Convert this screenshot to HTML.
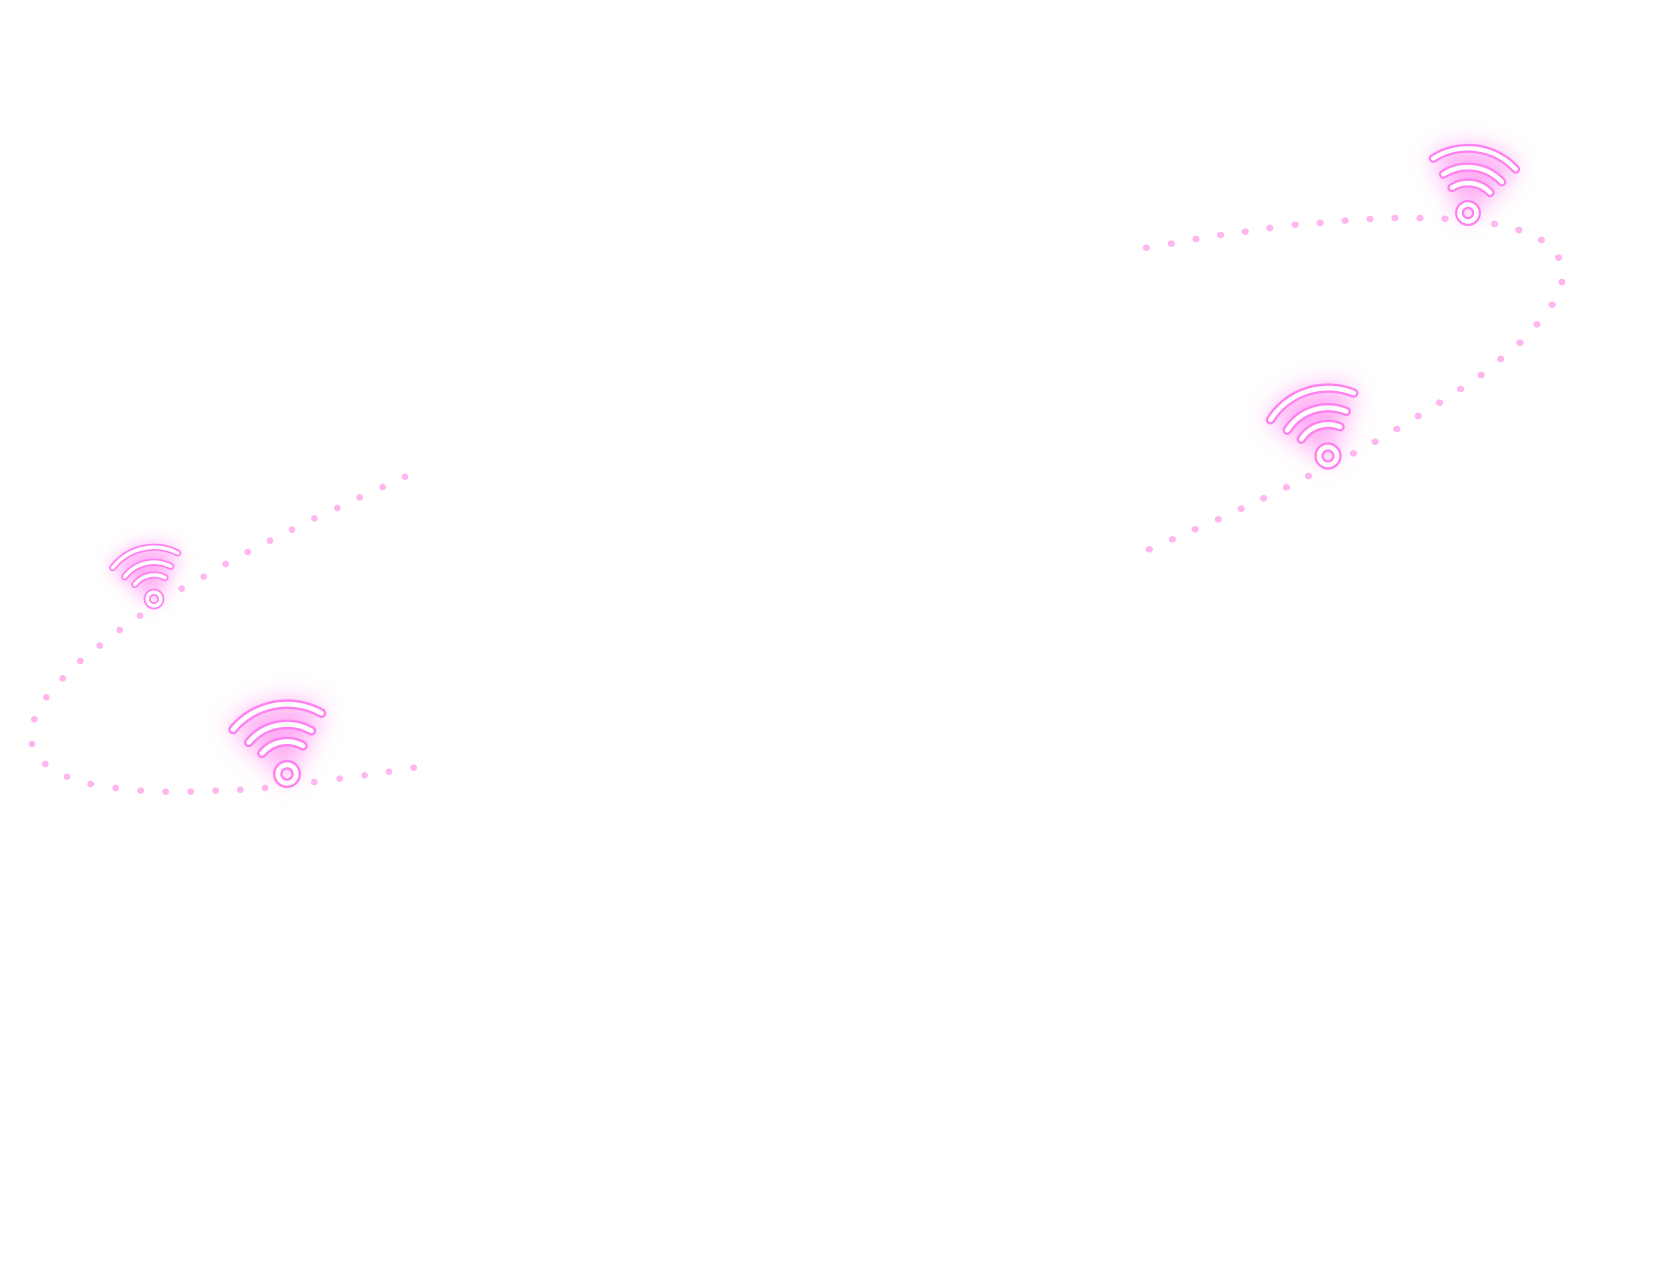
<!DOCTYPE html>
<html><head><meta charset="utf-8"><style>
html,body{margin:0;padding:0;background:#fff;}
svg{display:block;}
</style></head><body>
<svg width="1667" height="1280" viewBox="0 0 1667 1280" xmlns="http://www.w3.org/2000/svg">
<defs>
<filter id="glow" x="-1" y="-1" width="3" height="3"><feGaussianBlur stdDeviation="12"/></filter>
</defs>
<!-- right dotted path -->
<g transform="translate(1100,100) scale(0.362,0.33333)" fill="#ffb6ef">
<g id="rd">
<circle cx="128" cy="443" r="10"/><circle cx="197" cy="431" r="10"/><circle cx="265" cy="417" r="10"/><circle cx="333" cy="405" r="10"/><circle cx="401" cy="395" r="10"/><circle cx="469" cy="384" r="10"/><circle cx="539" cy="374" r="10"/><circle cx="608" cy="369" r="10"/><circle cx="677" cy="362" r="10"/><circle cx="746" cy="357" r="10"/><circle cx="815" cy="354" r="10"/><circle cx="884" cy="354" r="10"/><circle cx="953" cy="356" r="10"/><circle cx="1090" cy="372" r="10"/><circle cx="1157" cy="390" r="10"/><circle cx="1219" cy="420" r="10"/><circle cx="1267" cy="473" r="10"/><circle cx="1276" cy="546" r="10"/><circle cx="1249" cy="614" r="10"/><circle cx="1207" cy="673" r="10"/><circle cx="1160" cy="728" r="10"/><circle cx="1107" cy="777" r="10"/><circle cx="1053" cy="825" r="10"/><circle cx="996" cy="867" r="10"/><circle cx="938" cy="908" r="10"/><circle cx="879" cy="948" r="10"/><circle cx="820" cy="987" r="10"/><circle cx="760" cy="1025" r="10"/><circle cx="700" cy="1060" r="10"/><circle cx="576" cy="1128" r="10"/><circle cx="515" cy="1162" r="10"/><circle cx="452" cy="1195" r="10"/><circle cx="390" cy="1226" r="10"/><circle cx="327" cy="1258" r="10"/><circle cx="263" cy="1288" r="10"/><circle cx="200" cy="1318" r="10"/><circle cx="136" cy="1348" r="10"/>
</g>
</g>
<!-- left dotted path -->
<g transform="translate(0,450) scale(0.33333)" fill="#ffb6ef">
<circle cx="1215" cy="80" r="10"/><circle cx="1148" cy="111" r="10"/><circle cx="1079" cy="142" r="10"/><circle cx="1012" cy="174" r="10"/><circle cx="943" cy="205" r="10"/><circle cx="876" cy="239" r="10"/><circle cx="810" cy="272" r="10"/><circle cx="743" cy="306" r="10"/><circle cx="677" cy="342" r="10"/><circle cx="611" cy="380" r="10"/><circle cx="545" cy="416" r="10"/><circle cx="420" cy="497" r="10"/><circle cx="359" cy="540" r="10"/><circle cx="299" cy="587" r="10"/><circle cx="241" cy="633" r="10"/><circle cx="188" cy="685" r="10"/><circle cx="139" cy="742" r="10"/><circle cx="103" cy="808" r="10"/><circle cx="96" cy="882" r="10"/><circle cx="136" cy="942" r="10"/><circle cx="201" cy="980" r="10"/><circle cx="272" cy="1002" r="10"/><circle cx="347" cy="1014" r="10"/><circle cx="422" cy="1022" r="10"/><circle cx="497" cy="1025" r="10"/><circle cx="572" cy="1025" r="10"/><circle cx="647" cy="1022" r="10"/><circle cx="721" cy="1019" r="10"/><circle cx="795" cy="1014" r="10"/><circle cx="943" cy="996" r="10"/><circle cx="1019" cy="986" r="10"/><circle cx="1094" cy="976" r="10"/><circle cx="1167" cy="965" r="10"/><circle cx="1241" cy="953" r="10"/>
</g>

<g id="ic1" transform="translate(1468,213) rotate(7.5)">
  <path d="M-44,-52 Q0,-82 44,-52 L0,8 Z" fill="#ff8cef" opacity="0.7" filter="url(#glow)"/>
  <g fill="none" stroke-linecap="round">
    <g stroke="#ff80f0" stroke-width="9">
      <path d="M-41.6,-49.6 A65,65 0 0 1 41.6,-49.6"/>
      <path d="M-29.5,-35.2 A46,46 0 0 1 29.5,-35.2"/>
      <path d="M-19.3,-23 A30,30 0 0 1 19.3,-23"/>
      <circle cx="0" cy="0" r="8.5"/>
    </g>
    <g stroke="#fff" stroke-width="4.5">
      <path d="M-41.6,-49.6 A65,65 0 0 1 41.6,-49.6"/>
      <path d="M-29.5,-35.2 A46,46 0 0 1 29.5,-35.2"/>
      <path d="M-19.3,-23 A30,30 0 0 1 19.3,-23"/>
      <circle cx="0" cy="0" r="8.5"/>
    </g>
  </g>
</g>
<use href="#ic1" transform="translate(1328,456) rotate(-17.8) scale(1.05) rotate(-7.5) translate(-1468,-213)"/>
<use href="#ic1" transform="translate(154,599) rotate(-12.8) scale(0.8) rotate(-7.5) translate(-1468,-213)"/>
<use href="#ic1" transform="translate(287,774) rotate(-10.5) scale(1.08) rotate(-7.5) translate(-1468,-213)"/>
</svg>
</body></html>
